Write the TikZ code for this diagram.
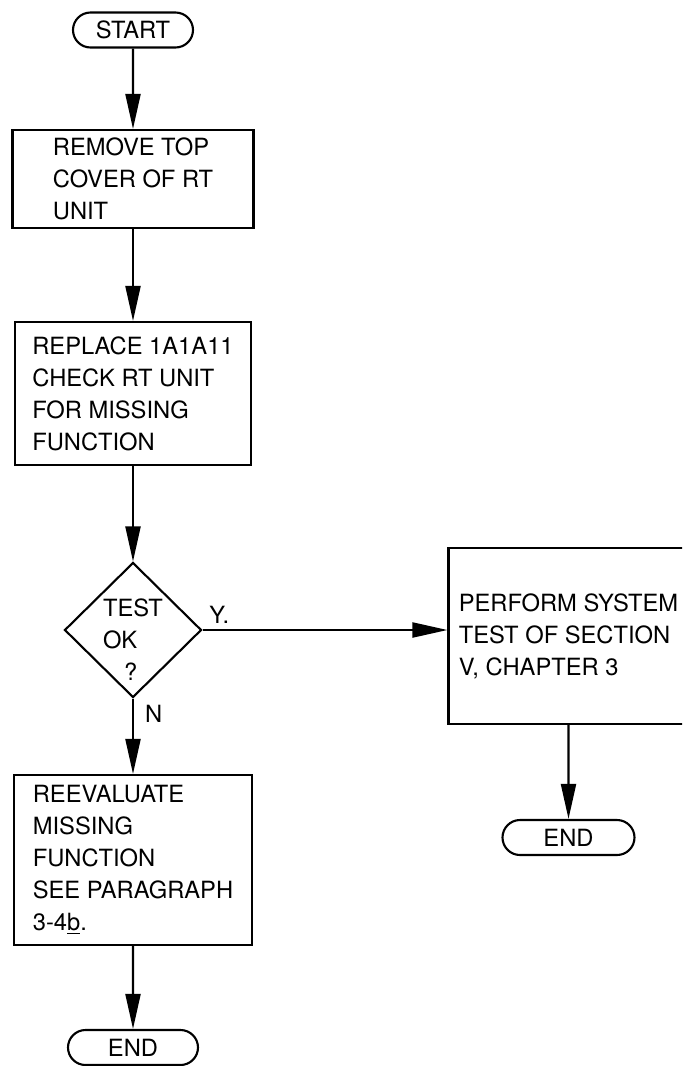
\documentclass[tikz,border=0pt]{standalone}
\usepackage{fontspec}
\setmainfont{TeX Gyre Heros}
\usetikzlibrary{shapes.geometric,shapes.misc,arrows.meta}

\begin{document}
\begin{tikzpicture}[
  font=\fontsize{13.5}{18.2}\selectfont,
  line width=1.2pt,
  >={Triangle[length=0.7cm,width=0.3cm]},
  box/.style={draw,rectangle,align=left,inner sep=0pt},
  term/.style={draw,rounded rectangle,minimum width=2.6cm,minimum height=0.7cm,inner sep=0pt},
  decision/.style={draw,diamond,minimum width=2.74cm,minimum height=2.7cm,inner sep=0pt}
]

  \clip (0,0) rectangle (13.64,-21.32);

  % main column
  \node (start) at (2.66,-0.6) [term,minimum width=2.4cm] {START};
  \node (remove) at (2.66,-3.58) [box,minimum width=4.82cm,minimum height=1.96cm]
    {REMOVE TOP\\COVER OF RT\\UNIT};
  \node (replace) at (2.66,-7.87) [box,minimum width=4.72cm,minimum height=2.86cm]
    {REPLACE 1A1A11\\CHECK RT UNIT\\FOR MISSING\\FUNCTION};
  \node (test) at (2.66,-12.6) [decision] {};
  \node (testtxt) at (2.66,-12.8) [align=left] {TEST\\OK\\\hspace*{0.42cm}?};
  \node (reeval) at (2.66,-17.2) [box,minimum width=4.76cm,minimum height=3.4cm]
    {REEVALUATE\\MISSING\\FUNCTION\\SEE PARAGRAPH\\3-4\underline{b}.};
  \node (end2) at (2.66,-20.95) [term] {END};

  % yes branch
  \node (perform) at (11.37,-12.72) [box,minimum width=4.8cm,minimum height=3.52cm]
    {PERFORM SYSTEM\\TEST OF SECTION\\V, CHAPTER 3};
  \node (end1) at (11.37,-16.75) [term,minimum width=2.64cm] {END};

  \foreach \a/\b in {start/remove,remove/replace,replace/test,reeval/end2,perform/end1}
  {
    \draw [->] (\a) -- (\b);
  }
  \draw [->] (test) -- node [pos=0.2,right=3pt] {N} (reeval);
  \draw [->] (test.east) -- node [pos=0,above right] {Y.} (test.east -| perform.west);

\end{tikzpicture}
\end{document}
